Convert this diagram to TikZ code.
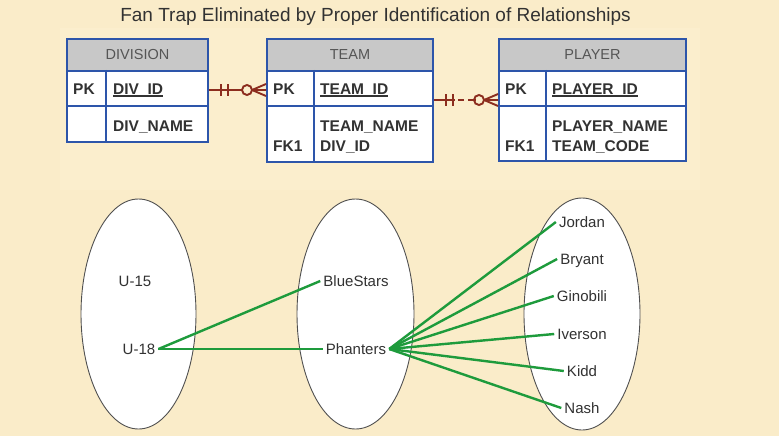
\documentclass[tikz,border=0pt]{standalone}
\usepackage{fontspec}
\setmainfont{Liberation Sans}
\usetikzlibrary{shapes.geometric,calc}
\definecolor{bg}{RGB}{250,236,201}
\definecolor{bgin}{RGB}{251,238,205}
\definecolor{tblue}{RGB}{45,85,170}
\definecolor{hgray}{RGB}{200,200,200}
\definecolor{htext}{RGB}{85,85,85}
\definecolor{txt}{RGB}{50,50,50}
\definecolor{relred}{RGB}{140,45,30}
\definecolor{lgreen}{RGB}{30,155,60}
\definecolor{ellb}{RGB}{80,80,80}
\newcommand{\myul}[1]{\setbox0\hbox{#1}\rlap{\rule[-2.6pt]{\wd0}{1.2pt}}#1}
\begin{document}
\begin{tikzpicture}[x=1pt,y=-1pt,
  hdr/.style={draw=tblue, line width=2pt, fill=hgray, text=htext,
    font=\fontsize{14.5}{17}\selectfont, minimum height=32pt, inner sep=0pt},
  rowbox/.style={draw=tblue, line width=2pt, fill=white, inner sep=0pt},
  colline/.style={draw=tblue, line width=2pt},
  bt/.style={text=txt, font=\bfseries\fontsize{15.5}{18}\selectfont, inner sep=0pt, anchor=base west},
  ell/.style={ellipse, draw=ellb, line width=0.9pt, fill=white, inner sep=0pt},
  nm/.style={text=txt, font=\fontsize{15}{18}\selectfont, inner sep=3pt, text height=11pt, text depth=0pt},
  gl/.style={draw=lgreen, line width=2.4pt},
  rel/.style={draw=relred, line width=1.9pt},
]
\useasboundingbox (0,0) rectangle (779,436);
\fill[bg] (0,0) rectangle (779,436);
\fill[bgin] (60,28) rectangle (700,190);

\node[anchor=base, text=txt, font=\fontsize{19}{22}\selectfont] (title) at (375.5,22)
  {Fan Trap Eliminated by Proper Identification of Relationships};

% DIVISION
\node[rowbox, minimum width=141pt, minimum height=35pt] (divR1) at (137.5,88.5) {};
\node[rowbox, minimum width=141pt, minimum height=36pt] (divR2) at (137.5,124) {};
\node[hdr, minimum width=141pt] (divH) at (137.5,55) {DIVISION};
\draw[colline] (106,0 |- divR1.north) -- (106,0 |- divR2.south);
\node[bt] (divPK) at (73,94) {PK};
\node[bt] (divID) at (113,94) {\myul{DIV\_ID}};
\node[bt] (divNM) at (113,131) {DIV\_NAME};

% TEAM
\node[rowbox, minimum width=166pt, minimum height=35pt] (teamR1) at (350,88.5) {};
\node[rowbox, minimum width=166pt, minimum height=56pt] (teamR2) at (350,134) {};
\node[hdr, minimum width=166pt] (teamH) at (350,55) {TEAM};
\draw[colline] (314,0 |- teamR1.north) -- (314,0 |- teamR2.south);
\node[bt] (teamPK) at (273,94) {PK};
\node[bt] (teamID) at (320,94) {\myul{TEAM\_ID}};
\node[bt] (teamNM) at (320,131) {TEAM\_NAME};
\node[bt] (teamFK) at (273,151) {FK1};
\node[bt] (teamDV) at (320,151) {DIV\_ID};

% PLAYER
\node[rowbox, minimum width=187pt, minimum height=35pt] (plR1) at (592.5,88.5) {};
\node[rowbox, minimum width=187pt, minimum height=55pt] (plR2) at (592.5,133.5) {};
\node[hdr, minimum width=187pt] (plH) at (592.5,55) {PLAYER};
\draw[colline] (546,0 |- plR1.north) -- (546,0 |- plR2.south);
\node[bt] (plPK) at (505,94) {PK};
\node[bt] (plID) at (552,94) {\myul{PLAYER\_ID}};
\node[bt] (plNM) at (552,131) {PLAYER\_NAME};
\node[bt] (plFK) at (505,151) {FK1};
\node[bt] (plTC) at (552,151) {TEAM\_CODE};

% relationship DIVISION - TEAM
\coordinate (r1a) at (divR1.east |- 0,90);
\coordinate (r1b) at (teamR1.west |- 0,90);
\draw[rel] (r1a) -- ($(r1b)+(-24,0)$);
\draw[rel] ($(r1a)+(12,-6)$) -- ($(r1a)+(12,6)$);
\draw[rel] ($(r1a)+(19,-6)$) -- ($(r1a)+(19,6)$);
\draw[rel] ($(r1b)+(-19,0)$) circle[radius=5];
\draw[rel] ($(r1b)+(-14,0)$) -- ($(r1b)+(0,-6)$)
           ($(r1b)+(-14,0)$) -- (r1b)
           ($(r1b)+(-14,0)$) -- ($(r1b)+(0,6)$);

% relationship TEAM - PLAYER
\coordinate (r2a) at (teamR1.east |- 0,100);
\coordinate (r2b) at (plR1.west |- 0,100);
\draw[rel] (r2a) -- ($(r2a)+(21,0)$);
\draw[rel] ($(r2a)+(24,0)$) -- ($(r2a)+(30,0)$);
\draw[rel] ($(r2a)+(34,0)$) -- ($(r2a)+(42,0)$);
\draw[rel] ($(r2a)+(12,-6)$) -- ($(r2a)+(12,6)$);
\draw[rel] ($(r2a)+(19,-6)$) -- ($(r2a)+(19,6)$);
\draw[rel] ($(r2b)+(-19,0)$) circle[radius=5];
\draw[rel] ($(r2b)+(-14,0)$) -- ($(r2b)+(0,-6)$)
           ($(r2b)+(-14,0)$) -- (r2b)
           ($(r2b)+(-14,0)$) -- ($(r2b)+(0,6)$);

% ellipses
\node[ell, minimum width=115pt, minimum height=230pt] (eDiv) at (138.5,314) {};
\node[ell, minimum width=117pt, minimum height=230pt] (eTeam) at (355.5,314) {};
\node[ell, minimum width=116pt, minimum height=232pt] (ePl) at (582,314) {};

\node[nm] (u15) at (135,281) {U-15};
\node[nm] (u18) at (139,349) {U-18};
\node[nm] (blue) at (356,281) {BlueStars};
\node[nm] (ph) at (356,349) {Phanters};
\node[nm] (jo) at (582,222) {Jordan};
\node[nm] (br) at (582,259) {Bryant};
\node[nm] (gi) at (582,296) {Ginobili};
\node[nm] (iv) at (582,334) {Iverson};
\node[nm] (ki) at (582,371) {Kidd};
\node[nm] (na) at (582,408) {Nash};

\draw[gl] (u18.east) -- (blue.west);
\draw[gl] (u18.east) -- (ph.west);
\foreach \p in {jo,br,gi,iv,ki,na}
  \draw[gl] (ph.east) -- (\p.west);
\end{tikzpicture}
\end{document}
